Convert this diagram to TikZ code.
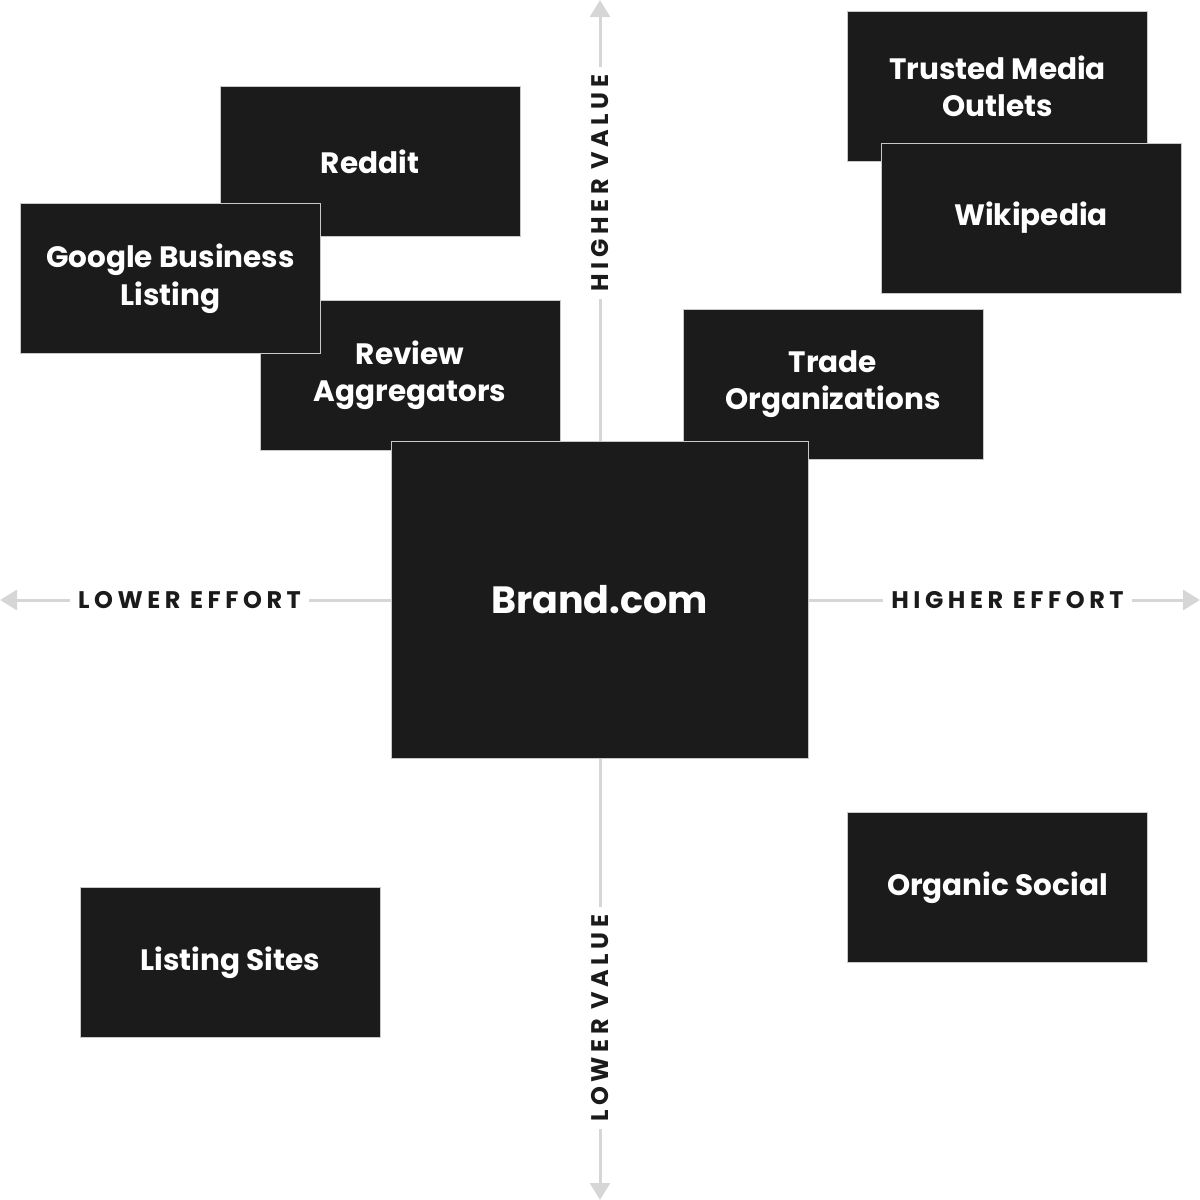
\documentclass[tikz,border=0pt]{standalone}
\usepackage{fontspec}
\setmainfont{Poppins}
\newfontfamily\axisfont[LetterSpace=19]{Poppins}
\usetikzlibrary{arrows.meta}
\definecolor{boxfill}{HTML}{1B1B1B}
\definecolor{boxedge}{HTML}{C8C8C8}
\definecolor{axisgray}{HTML}{D6D6D6}
\definecolor{labelink}{HTML}{1B1B1B}
\tikzset{
  card/.style={rectangle, fill=boxfill, draw=boxedge, line width=1pt,
    minimum width=300pt, minimum height=150pt, inner sep=0pt,
    text=white, align=center, font=\fontsize{29.5}{37.5}\selectfont\bfseries},
  axisline/.style={draw=axisgray, line width=3pt, -{Triangle[width=20pt,length=17pt]}},
  axislabel/.style={fill=white, text=labelink, inner xsep=8pt, inner ysep=4pt,
    font=\axisfont\fontsize{24}{28}\selectfont\bfseries},
}
\begin{document}
\begin{tikzpicture}[x=1pt,y=-1pt]
\useasboundingbox (0,0) rectangle (1200,1200);
% axes
\coordinate (C) at (600,600);
\coordinate (T) at (600,0);
\coordinate (B) at (600,1200);
\coordinate (L) at (0,600);
\coordinate (R) at (1200,600);
\draw[axisline] (C) -- (T);
\draw[axisline] (C) -- (B);
\draw[axisline] (C) -- (L);
\draw[axisline] (C) -- (R);
\node[axislabel, rotate=90] (hv) at (600,183) {HIGHER VALUE};
\node[axislabel, rotate=90] (lv) at (600,1018) {LOWER VALUE};
\node[axislabel] (le) at (189.5,600) {LOWER EFFORT};
\node[axislabel] (he) at (1007.5,600) {HIGHER EFFORT};
% cards
\node[card] (reddit) at (370,161.5) {Reddit};
\node[card] (review) at (410,375) {Review\\Aggregators};
\node[card] (google) at (170.5,278.5) {Google Business\\Listing};
\node[card] (trade) at (833,384) {Trade\\Organizations};
\node[card] (trusted) at (997.5,86.5) {Trusted Media\\Outlets};
\node[card] (wiki) at (1031,218) {Wikipedia};
\node[card] (organic) at (997.5,887.5) {Organic Social};
\node[card] (listing) at (230,962.5) {Listing Sites};
\node[card, minimum width=417pt, minimum height=317pt, font=\fontsize{38}{46}\selectfont\bfseries] (brand) at (599.5,599.5) {Brand.com};
\end{tikzpicture}
\end{document}
